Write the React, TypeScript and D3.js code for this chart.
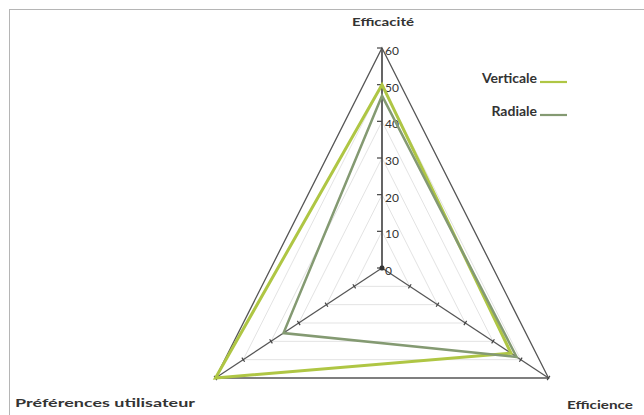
import React from "react";
import * as d3 from "d3";

const categories = ["Efficacité", "Efficience", "Préférences utilisateur"];
const seriesNames = ["Verticale", "Radiale"];
const verticale = [50, 46.5, 60];
const radiale = [47, 48.5, 35.5];
const tickValues = [0, 10, 20, 30, 40, 50, 60];

const W = 644;
const H = 415;
const cx = 382;
const cy = 268;
const R = 220;
const SX = 0.874;

const r = d3.scaleLinear().domain([0, 60]).range([0, R]);

function pt(i: number, v: number): [number, number] {
  const a = (i * 2 * Math.PI) / categories.length;
  return [cx + SX * r(v) * Math.sin(a), cy - r(v) * Math.cos(a)];
}

const closed = d3.line<[number, number]>().curve(d3.curveLinearClosed);

const colors = ["#afc644", "#849a72"];
const widths = [3, 2.5];

export default function App() {
  const seriesData = [verticale, radiale];
  const gridLevels = tickValues.filter((t) => t > 0 && t < 60);
  const font = "Lato, 'Open Sans', sans-serif";

  return (
    <svg
      width={W}
      height={H}
      style={{ position: "absolute", left: 0, top: 0, background: "#fff" }}
    >
      <rect x={9.5} y={9.5} width={700} height={500} fill="#fff" stroke="#b5b5b5" strokeWidth={1} />
      {gridLevels.map((lv) => (
        <path
          key={lv}
          d={closed(categories.map((_, i) => pt(i, lv))) || ""}
          fill="none"
          stroke="#e3e3e3"
          strokeWidth={1}
        />
      ))}
      <path
        d={closed(categories.map((_, i) => pt(i, 60))) || ""}
        fill="none"
        stroke="#555"
        strokeWidth={1.3}
      />
      {categories.map((_, i) => {
        const [x2, y2] = pt(i, 60);
        return <line key={i} x1={cx} y1={cy} x2={x2} y2={y2} stroke="#555" strokeWidth={i === 0 ? 1.8 : 1.2} />;
      })}
      {categories.map((_, i) =>
        tickValues.map((t) => {
          const [x, y] = pt(i, t);
          if (i === 0) {
            return <line key={`${i}-${t}`} x1={x - 5} y1={y} x2={x} y2={y} stroke="#444" strokeWidth={1.2} />;
          }
          const a = (i * 2 * Math.PI) / categories.length;
          const dx = SX * Math.sin(a);
          const dy = -Math.cos(a);
          const len = Math.hypot(dx, dy);
          const px = -dy / len;
          const py = dx / len;
          return (
            <line
              key={`${i}-${t}`}
              x1={x - px * 2.5}
              y1={y - py * 2.5}
              x2={x + px * 2.5}
              y2={y + py * 2.5}
              stroke="#444"
              strokeWidth={1.2}
            />
          );
        })
      )}
      {tickValues.map((t) => {
        const [, y] = pt(0, t);
        return (
          <text
            key={t}
            x={385}
            y={y + 4}
            dominantBaseline="middle"
            fontFamily={font}
            fontSize={12}
            fill="#333"
          >
            {t}
          </text>
        );
      })}
      <circle cx={cx} cy={cy} r={2.5} fill="#333" />
      {seriesData.map((s, si) => (
        <path
          key={si}
          d={closed(s.map((v, i) => pt(i, v))) || ""}
          fill="none"
          stroke={colors[si]}
          strokeWidth={widths[si]}
          strokeLinejoin="miter"
        />
      ))}
      <text x={383} y={23} textAnchor="middle" dominantBaseline="middle" fontFamily={font} fontWeight="bold" fontSize={12} fill="#333" textLength={62} lengthAdjust="spacingAndGlyphs">
        {categories[0]}
      </text>
      <text x={567} y={406} dominantBaseline="middle" fontFamily={font} fontWeight="bold" fontSize={12} fill="#333" textLength={66} lengthAdjust="spacingAndGlyphs">
        {categories[1]}
      </text>
      <text x={15} y={404} dominantBaseline="middle" fontFamily={font} fontWeight="bold" fontSize={12} fill="#333" textLength={180} lengthAdjust="spacingAndGlyphs">
        {categories[2]}
      </text>
      {seriesNames.map((n, si) => {
        const y = si === 0 ? 79 : 112;
        return (
          <g key={n}>
            <text x={537} y={y} textAnchor="end" dominantBaseline="middle" fontFamily={font} fontWeight="bold" fontSize={14} fill="#333">
              {n}
            </text>
            <line x1={540} y1={y + 3} x2={567} y2={y + 3} stroke={colors[si]} strokeWidth={2.2} />
          </g>
        );
      })}
    </svg>
  );
}
